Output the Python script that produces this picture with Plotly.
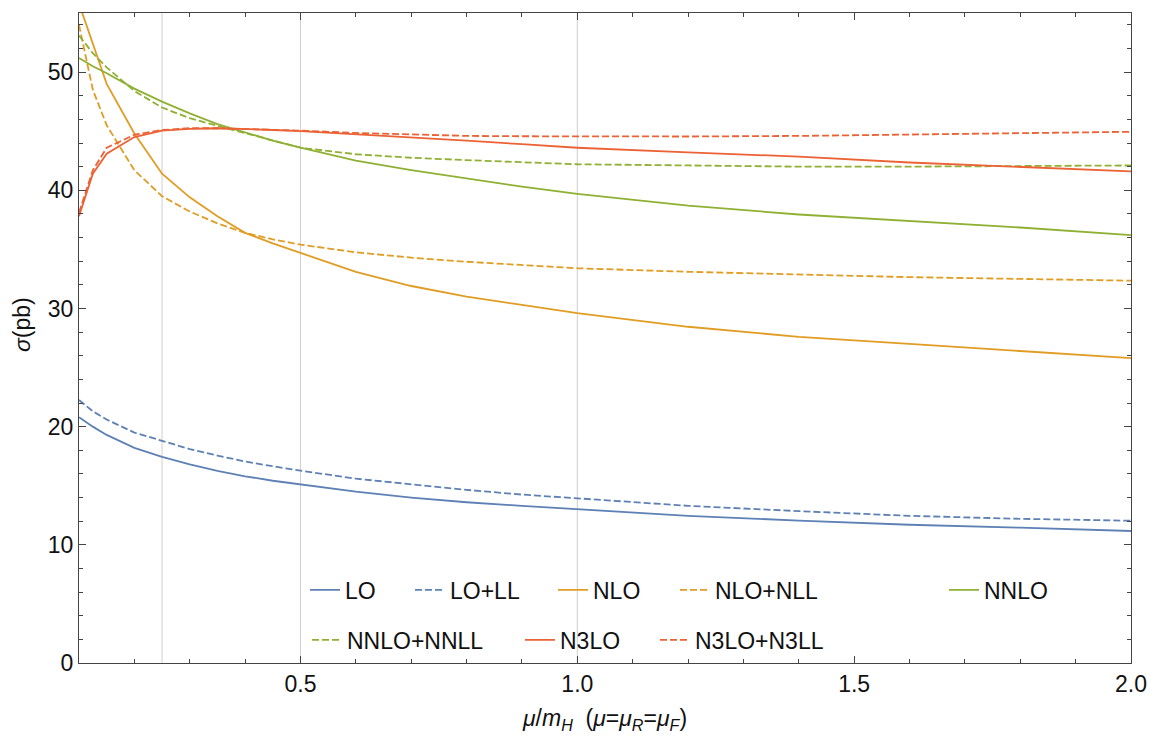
import plotly.graph_objects as go

# ---------------- data ----------------
mu = [0.1, 0.125, 0.15, 0.2, 0.25, 0.3, 0.35, 0.4, 0.45, 0.5, 0.6, 0.7, 0.8, 0.9,
      1.0, 1.2, 1.4, 1.6, 1.8, 2.0]

lo = [20.8, 20.0, 19.3, 18.2, 17.45, 16.8, 16.25, 15.8, 15.42, 15.1, 14.5, 14.0, 13.6, 13.3,
      13.0, 12.45, 12.05, 11.7, 11.45, 11.17]
lo_ll = [22.25, 21.3, 20.6, 19.5, 18.8, 18.1, 17.55, 17.05, 16.65, 16.27, 15.6, 15.1, 14.65, 14.25,
         13.93, 13.3, 12.85, 12.45, 12.2, 12.04]
nlo = [55.8, 52.3, 49.0, 44.8, 41.4, 39.4, 37.8, 36.4, 35.5, 34.7, 33.1, 31.9, 31.0, 30.3,
       29.6, 28.45, 27.6, 27.0, 26.4, 25.8]
nlo_nll = [54.0, 48.5, 45.5, 41.7, 39.5, 38.2, 37.2, 36.4, 35.85, 35.4, 34.75, 34.3, 33.95, 33.65,
           33.4, 33.1, 32.85, 32.65, 32.5, 32.35]
nnlo = [51.2, 50.5, 49.9, 48.6, 47.5, 46.5, 45.6, 44.9, 44.2, 43.6, 42.5, 41.7, 41.0, 40.3,
        39.7, 38.7, 37.95, 37.4, 36.85, 36.2]
nnlo_nnll = [53.1, 51.6, 50.4, 48.4, 47.0, 46.1, 45.45, 44.85, 44.2, 43.6, 43.05, 42.75, 42.55, 42.35,
             42.2, 42.1, 42.0, 42.0, 42.05, 42.1]
n3lo = [37.8, 41.4, 43.1, 44.5, 45.05, 45.2, 45.25, 45.2, 45.1, 45.0, 44.75, 44.5, 44.2, 43.9,
        43.6, 43.2, 42.85, 42.35, 41.95, 41.6]
n3lo_n3ll = [38.1, 41.7, 43.6, 44.7, 45.1, 45.25, 45.25, 45.2, 45.12, 45.05, 44.85, 44.7, 44.6, 44.57,
             44.55, 44.55, 44.6, 44.7, 44.8, 44.95]

series_names = ["LO", "LO+LL", "NLO", "NLO+NLL", "NNLO", "NNLO+NNLL", "N3LO", "N3LO+N3LL"]
series_values = [lo, lo_ll, nlo, nlo_nll, nnlo, nnlo_nnll, n3lo, n3lo_n3ll]

x_tick_vals = [0.5, 1.0, 1.5, 2.0]
x_tick_text = ["0.5", "1.0", "1.5", "2.0"]
y_tick_vals = [0, 10, 20, 30, 40, 50]
grid_x = [0.25, 0.5, 1.0]

# ---------------- styling ----------------
blue, orange, green, red = "#5E81B5", "#E19C24", "#8FB032", "#EB6235"
colors = [blue, blue, orange, orange, green, green, red, red]
dashes = ["solid", "7px,3px"] * 4
FONT = "Liberation Sans, Arial, sans-serif"

# legend item placement (pixel positions of label text start, row centre)
legend_text_px = [345, 450, 593, 715, 984, 347, 560, 695]
legend_row_px = [590, 590, 590, 590, 590, 640, 640, 640]

L, R, T, B = 79, 19, 13, 73
W, H = 1150, 736
pw, ph = W - L - R, H - T - B

fig = go.Figure()
for i, (name, vals) in enumerate(zip(series_names, series_values)):
    lg = "legend" if i == 0 else f"legend{i+1}"
    fig.add_trace(go.Scatter(
        x=mu, y=vals, mode="lines", name=name,
        line=dict(color=colors[i], width=1.8, dash=dashes[i]),
        legend=lg, showlegend=True,
    ))

for gx in grid_x:
    fig.add_vline(x=gx, line=dict(color="#CFCFCF", width=1), layer="below")

layout_legends = {}
for i in range(len(series_names)):
    key = "legend" if i == 0 else f"legend{i+1}"
    layout_legends[key] = dict(
        x=(legend_text_px[i] - 40 - L) / pw,
        y=(H - B - legend_row_px[i]) / ph,
        xanchor="left", yanchor="middle",
        bgcolor="rgba(0,0,0,0)", borderwidth=0,
        font=dict(family=FONT, size=23, color="#111"),
        orientation="h",
    )

axis_common = dict(
    showline=True, linecolor="#444", linewidth=1, mirror="ticks",
    ticks="inside", ticklen=7, tickcolor="#444", tickwidth=1,
    showgrid=False, zeroline=False, automargin=False,
    tickfont=dict(family=FONT, size=23, color="#111"),
)

fig.update_layout(
    width=W, height=H,
    margin=dict(l=L, r=R, t=T, b=B),
    paper_bgcolor="white", plot_bgcolor="white",
    xaxis=dict(
        range=[0.1, 2.0], tickvals=x_tick_vals, ticktext=x_tick_text,
        minor=dict(dtick=0.1, tick0=0.1, ticks="inside", ticklen=4, tickcolor="#444", showgrid=False),
        title=dict(text="<i>μ</i>/<i>m</i><sub><i>H</i></sub>  (<i>μ</i>=<i>μ</i><sub><i>R</i></sub>=<i>μ</i><sub><i>F</i></sub>)",
                   font=dict(family=FONT, size=23, color="#111"), standoff=14),
        **axis_common,
    ),
    yaxis=dict(
        range=[0, 55], tickvals=y_tick_vals,
        minor=dict(dtick=2, tick0=0, ticks="inside", ticklen=4, tickcolor="#444", showgrid=False),
        **axis_common,
    ),
    annotations=[dict(
        text="<i>σ</i>(pb)", textangle=-90, xref="paper", yref="paper",
        x=(22 - L) / pw, y=(H - B - 325) / ph, xanchor="center", yanchor="middle",
        showarrow=False, font=dict(family=FONT, size=23, color="#111"),
    )],
    **layout_legends,
)

fig.write_html("out.html", config={"displayModeBar": False},
               post_script="document.body.style.margin='0';")
